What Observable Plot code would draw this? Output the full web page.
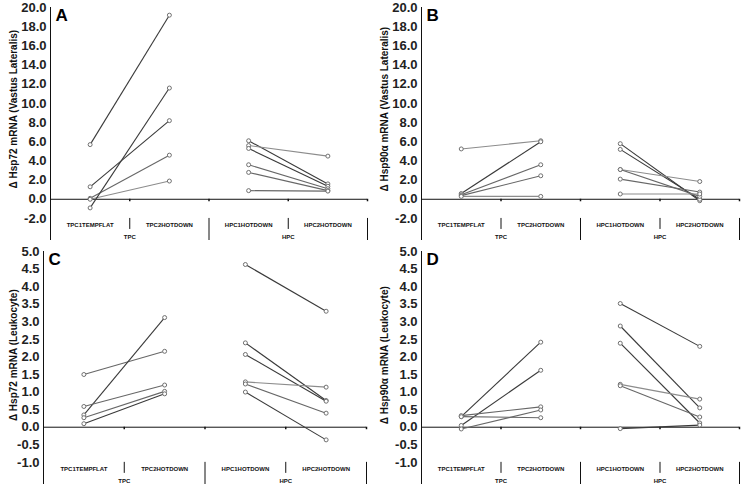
<!DOCTYPE html>
<html><head><meta charset="utf-8">
<script src="https://cdn.jsdelivr.net/npm/d3@7"></script>
<script src="https://cdn.jsdelivr.net/npm/@observablehq/plot@0.6"></script>
<style>
body{margin:0;background:#fff;}
#grid{display:grid;grid-template-columns:371px 372px;grid-template-rows:244px 244px;width:743px;height:488px;}
#grid svg{display:block;overflow:visible}
</style></head><body><div id="grid"></div>
<script>
// ---- categories and tick labels ----
const categories = ["TPC1TEMPFLAT", "TPC2HOTDOWN", "HPC1HOTDOWN", "HPC2HOTDOWN"];
const groups = ["TPC", "HPC"];
const ticksVastus = [-2, 0, 2, 4, 6, 8, 10, 12, 14, 16, 18, 20];
const ticksLeuk = [-1, -0.5, 0, 0.5, 1, 1.5, 2, 2.5, 3, 3.5, 4, 4.5, 5];

// ---- Panel A: Δ Hsp72 mRNA (Vastus Lateralis) ----
const aTpc1 = [5.7, 1.3, 0.1, 0.0, -0.9];
const aTpc2 = [19.2, 8.2, 4.6, 1.9, 11.6];
const aHpc1 = [6.1, 5.6, 5.3, 3.6, 2.8, 0.9];
const aHpc2 = [1.6, 4.5, 1.35, 1.1, 0.9, 0.85];

// ---- Panel B: Δ Hsp90α mRNA (Vastus Lateralis) ----
const bTpc1 = [5.25, 0.6, 0.47, 0.38, 0.3];
const bTpc2 = [6.1, 6.0, 3.6, 2.45, 0.3];
const bHpc1 = [5.8, 5.2, 3.1, 3.1, 2.1, 0.55];
const bHpc2 = [-0.15, 0.0, 1.85, 0.3, 0.75, 0.55];

// ---- Panel C: Δ Hsp72 mRNA (Leukocyte) ----
const cTpc1 = [1.5, 0.35, 0.59, 0.27, 0.10];
const cTpc2 = [2.16, 3.12, 1.2, 1.02, 0.95];
const cHpc1 = [4.63, 2.4, 2.07, 1.29, 1.23, 1.0];
const cHpc2 = [3.3, 0.76, 0.74, 1.14, 0.4, -0.36];

// ---- Panel D: Δ Hsp90α mRNA (Leukocyte) ----
const dTpc1 = [0.30, 0.05, 0.33, 0.30, -0.05];
const dTpc2 = [2.42, 1.62, 0.58, 0.27, 0.49];
const dHpc1 = [3.52, 2.88, 2.39, 1.22, 1.18, -0.04];
const dHpc2 = [2.30, 0.55, 0.12, 0.80, 0.29, 0.06];

// ---- line shades (style, per subject line) ----
const toneColor = {dark: "#3a3a3a", mid: "#676767", light: "#8c8c8c"};

const panels = [
  {letter: "A", title: "Δ Hsp72 mRNA (Vastus Lateralis)", ticks: ticksVastus, yMin: -4.3, titleY: 9.4,
   tpc: [aTpc1, aTpc2], hpc: [aHpc1, aHpc2],
   tpcTone: ["dark", "dark", "mid", "light", "dark"], hpcTone: ["dark", "light", "dark", "mid", "mid", "mid"],
   width: 371, ml: 50, mr: 4},
  {letter: "B", title: "Δ Hsp90α mRNA (Vastus Lateralis)", ticks: ticksVastus, yMin: -4.3, titleY: 9.4,
   tpc: [bTpc1, bTpc2], hpc: [bHpc1, bHpc2],
   tpcTone: ["light", "dark", "mid", "mid", "light"], hpcTone: ["dark", "dark", "light", "mid", "mid", "light"],
   width: 372, ml: 50, mr: 4},
  {letter: "C", title: "Δ Hsp72 mRNA (Leukocyte)", ticks: ticksLeuk, yMin: -1.63, titleY: 2.05,
   tpc: [cTpc1, cTpc2], hpc: [cHpc1, cHpc2],
   tpcTone: ["mid", "dark", "mid", "mid", "dark"], hpcTone: ["dark", "dark", "dark", "light", "mid", "dark"],
   width: 371, ml: 43, mr: 5},
  {letter: "D", title: "Δ Hsp90α mRNA (Leukocyte)", ticks: ticksLeuk, yMin: -1.63, titleY: 2.05,
   tpc: [dTpc1, dTpc2], hpc: [dHpc1, dHpc2],
   tpcTone: ["dark", "dark", "mid", "mid", "mid"], hpcTone: ["dark", "dark", "dark", "light", "mid", "dark"],
   width: 372, ml: 50, mr: 4}
];

const grid = document.getElementById("grid");

for (const p of panels) {
  const links = [];
  const points = [];
  const addGroup = (pre, post, tones, c0) => {
    pre.forEach((v, i) => {
      links.push({x1: c0 + 0.5, y1: v, x2: c0 + 1.5, y2: post[i], tone: tones[i]});
      points.push({x: c0 + 0.5, y: v});
      points.push({x: c0 + 1.5, y: post[i]});
    });
  };
  addGroup(p.tpc[0], p.tpc[1], p.tpcTone, 0);
  addGroup(p.hpc[0], p.hpc[1], p.hpcTone, 2);

  const yTop = p.ticks[p.ticks.length - 1];
  const yLow = p.ticks[0];

  const chart = Plot.plot({
    width: p.width,
    height: 244,
    marginLeft: p.ml,
    marginRight: p.mr,
    marginTop: 7,
    marginBottom: 4,
    x: {type: "linear", domain: [0, 4], axis: null},
    y: {domain: [p.yMin, yTop], axis: null},
    style: {fontFamily: "'Liberation Sans', Arial, sans-serif", background: "#fff", color: "#000"},
    marks: [
      Plot.axisY(p.ticks, {tickSize: 0, tickPadding: 4, label: null,
        tickFormat: d => d.toFixed(1), fontSize: 13, fontWeight: "bold", fill: "#222"}),
      Plot.ruleX([0], {y1: p.yMin, y2: yTop, stroke: "#111", strokeWidth: 1}),
      Plot.ruleY([0], {x1: 0, x2: 4, stroke: "#111", strokeWidth: 1}),
      Plot.ruleX([1, 2, 3, 4], {y1: 0, y2: 0, insetBottom: -2.5, stroke: "#111", strokeWidth: 1.5}),
      Plot.ruleX([1, 3], {y1: yLow, y2: yLow, insetBottom: -11, stroke: "#111", strokeWidth: 1}),
      Plot.ruleX([2, 4], {y1: yLow, y2: p.yMin, stroke: "#111", strokeWidth: 1}),
      Plot.link(links, {x1: "x1", y1: "y1", x2: "x2", y2: "y2", stroke: d => toneColor[d.tone], strokeWidth: 1.1}),
      Plot.dot(points, {x: "x", y: "y", r: 2, fill: "white", stroke: "#707070", strokeWidth: 1}),
      Plot.text(categories, {x: (d, i) => i + 0.5, y: () => yLow, dy: 6.5, text: d => d,
        fontSize: 6, fontWeight: "bold", fill: "#111"}),
      Plot.text(groups, {x: (d, i) => 2 * i + 1, y: () => yLow, dy: 18.5, text: d => d,
        fontSize: 6, fontWeight: "bold", fill: "#111"}),
      Plot.text([p.title], {frameAnchor: "left", y: () => p.titleY, dx: 13.5 - p.ml, rotate: -90,
        textAnchor: "middle", lineAnchor: "middle",
        text: d => d, fontSize: 10, fontWeight: "bold", fill: "#111"}),
      Plot.text([p.letter], {frameAnchor: "top-left", dx: 5, dy: 1.5, lineAnchor: "top", textAnchor: "start",
        text: d => d, fontSize: 17, fontWeight: "bold", fill: "#000"})
    ]
  });
  grid.appendChild(chart);
}
</script>
</body></html>
